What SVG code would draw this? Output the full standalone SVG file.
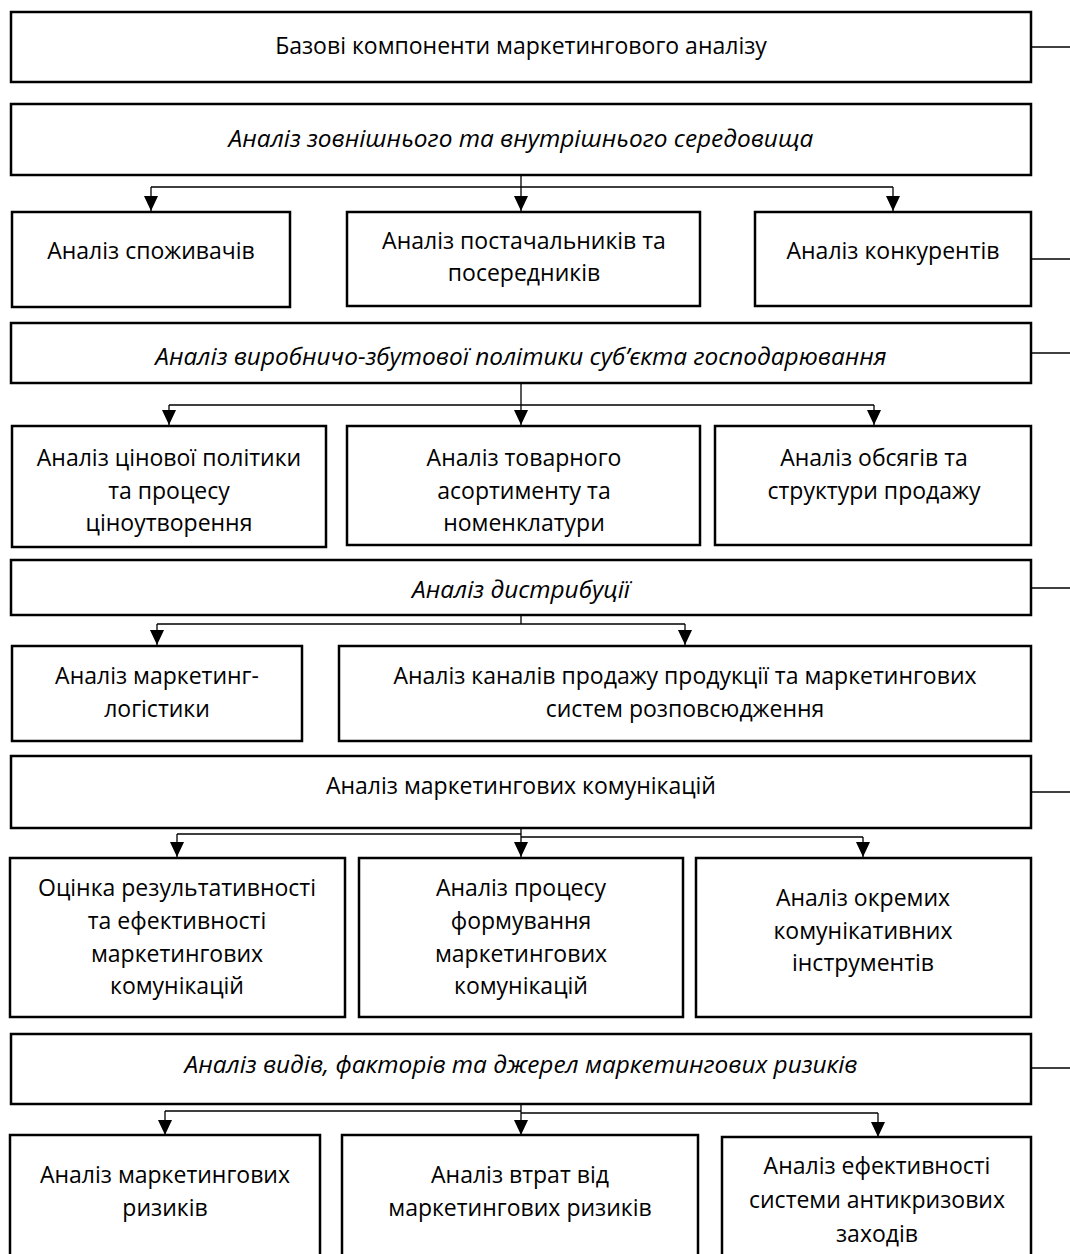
<svg xmlns="http://www.w3.org/2000/svg" width="1070" height="1254" viewBox="0 0 1070 1254">
<style>
.box{fill:#fff;stroke:#000;stroke-width:2.5}
.t{font-family:"Open Sans","Noto Sans","Liberation Sans",sans-serif;font-size:23px;fill:#000;text-anchor:middle;dominant-baseline:central}
.i{font-style:italic;font-size:24.4px}
.c{fill:none;stroke:#000;stroke-width:1.3}
</style>
<g id="connectors">
<line class="c" x1="1031" y1="47" x2="1070" y2="47"/>
<line class="c" x1="1031" y1="259" x2="1070" y2="259"/>
<line class="c" x1="1031" y1="353" x2="1070" y2="353"/>
<line class="c" x1="1031" y1="588" x2="1070" y2="588"/>
<line class="c" x1="1031" y1="792" x2="1070" y2="792"/>
<line class="c" x1="1031" y1="1068" x2="1070" y2="1068"/>
<path class="c" d="M521,175 V187 M151,187 H893"/>
<path d="M151,187 V211" class="c"/><path d="M144,196 H158 L151,211 Z"/>
<path d="M521,187 V211" class="c"/><path d="M514,196 H528 L521,211 Z"/>
<path d="M893,187 V211" class="c"/><path d="M886,196 H900 L893,211 Z"/>
<path class="c" d="M521,383 V405 M169,405 H874"/>
<path d="M169,405 V425" class="c"/><path d="M162,410 H176 L169,425 Z"/>
<path d="M521,405 V425" class="c"/><path d="M514,410 H528 L521,425 Z"/>
<path d="M874,405 V425" class="c"/><path d="M867,410 H881 L874,425 Z"/>
<path class="c" d="M521,615 V624 M157,624 H685"/>
<path d="M157,624 V645" class="c"/><path d="M150,630 H164 L157,645 Z"/>
<path d="M685,624 V645" class="c"/><path d="M678,630 H692 L685,645 Z"/>
<path class="c" d="M521,828 V857 M177,834 H521 M521,837 H863"/>
<path d="M177,834 V857" class="c"/><path d="M170,842 H184 L177,857 Z"/>
<path d="M514,842 H528 L521,857 Z"/>
<path d="M863,837 V857" class="c"/><path d="M856,842 H870 L863,857 Z"/>
<path class="c" d="M521,1104 V1135 M165,1111 H521 M521,1113 H878"/>
<path d="M165,1111 V1135" class="c"/><path d="M158,1120 H172 L165,1135 Z"/>
<path d="M514,1120 H528 L521,1135 Z"/>
<path d="M878,1113 V1137" class="c"/><path d="M871,1122 H885 L878,1137 Z"/>
</g>
<g id="n-base"><rect class="box" x="11" y="12" width="1020" height="70"/><text class="t" x="521" y="45">Базові компоненти маркетингового аналізу</text></g>
<g id="n-env"><rect class="box" x="11" y="104" width="1020" height="71"/><text class="t i" x="521" y="137">Аналіз зовнішнього та внутрішнього середовища</text></g>
<g id="n-consumers"><rect class="box" x="12" y="212" width="278" height="95"/><text class="t" x="151" y="250">Аналіз споживачів</text></g>
<g id="n-suppliers"><rect class="box" x="347" y="212" width="353" height="94"/><text class="t" x="524" y="240">Аналіз постачальників та</text><text class="t" x="524" y="272">посередників</text></g>
<g id="n-competitors"><rect class="box" x="755" y="212" width="276" height="94"/><text class="t" x="893" y="250">Аналіз конкурентів</text></g>
<g id="n-production"><rect class="box" x="11" y="323" width="1020" height="60"/><text class="t i" x="521" y="355">Аналіз виробничо-збутової політики суб’єкта господарювання</text></g>
<g id="n-price"><rect class="box" x="12" y="426" width="314" height="121"/><text class="t" x="169" y="457">Аналіз цінової політики</text><text class="t" x="169" y="490">та процесу</text><text class="t" x="169" y="522">ціноутворення</text></g>
<g id="n-assortment"><rect class="box" x="347" y="426" width="353" height="119"/><text class="t" x="524" y="457">Аналіз товарного</text><text class="t" x="524" y="490">асортименту та</text><text class="t" x="524" y="522">номенклатури</text></g>
<g id="n-sales"><rect class="box" x="715" y="426" width="316" height="119"/><text class="t" x="874" y="457">Аналіз обсягів та</text><text class="t" x="874" y="490">структури продажу</text></g>
<g id="n-distribution"><rect class="box" x="11" y="560" width="1020" height="55"/><text class="t i" x="521" y="588">Аналіз дистрибуції</text></g>
<g id="n-logistics"><rect class="box" x="12" y="646" width="290" height="95"/><text class="t" x="157" y="675">Аналіз маркетинг-</text><text class="t" x="157" y="708">логістики</text></g>
<g id="n-channels"><rect class="box" x="339" y="646" width="692" height="95"/><text class="t" x="685" y="675">Аналіз каналів продажу продукції та маркетингових</text><text class="t" x="685" y="708">систем розповсюдження</text></g>
<g id="n-communications"><rect class="box" x="11" y="756" width="1020" height="72"/><text class="t" x="521" y="785">Аналіз маркетингових комунікацій</text></g>
<g id="n-effectiveness"><rect class="box" x="10" y="858" width="335" height="159"/><text class="t" x="177" y="887">Оцінка результативності</text><text class="t" x="177" y="920">та ефективності</text><text class="t" x="177" y="953">маркетингових</text><text class="t" x="177" y="985">комунікацій</text></g>
<g id="n-process"><rect class="box" x="359" y="858" width="324" height="159"/><text class="t" x="521" y="887">Аналіз процесу</text><text class="t" x="521" y="920">формування</text><text class="t" x="521" y="953">маркетингових</text><text class="t" x="521" y="985">комунікацій</text></g>
<g id="n-instruments"><rect class="box" x="696" y="858" width="335" height="159"/><text class="t" x="863" y="897">Аналіз окремих</text><text class="t" x="863" y="930">комунікативних</text><text class="t" x="863" y="962">інструментів</text></g>
<g id="n-risks"><rect class="box" x="11" y="1034" width="1020" height="70"/><text class="t i" x="521" y="1063">Аналіз видів, факторів та джерел маркетингових ризиків</text></g>
<g id="n-risk-analysis"><rect class="box" x="10" y="1135" width="310" height="140"/><text class="t" x="165" y="1174">Аналіз маркетингових</text><text class="t" x="165" y="1207">ризиків</text></g>
<g id="n-losses"><rect class="box" x="342" y="1135" width="356" height="140"/><text class="t" x="520" y="1174">Аналіз втрат від</text><text class="t" x="520" y="1207">маркетингових ризиків</text></g>
<g id="n-anticrisis"><rect class="box" x="722" y="1137" width="309" height="140"/><text class="t" x="877" y="1165">Аналіз ефективності</text><text class="t" x="877" y="1199">системи антикризових</text><text class="t" x="877" y="1233">заходів</text></g>
</svg>
